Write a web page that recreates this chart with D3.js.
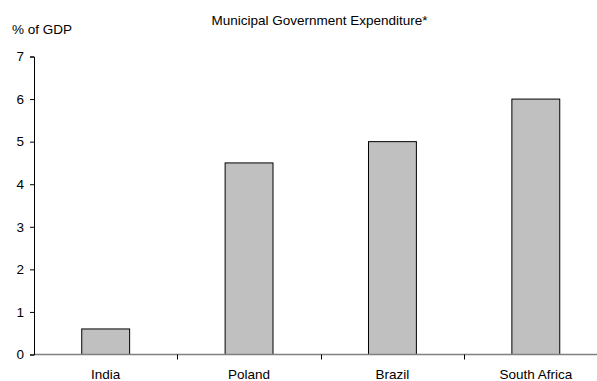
<!DOCTYPE html>
<html>
<head>
<meta charset="utf-8">
<script src="https://cdn.jsdelivr.net/npm/d3@7"></script>
<style>
  html, body { margin: 0; padding: 0; background: #fff; }
  svg { display: block; font-family: "Liberation Sans", Arial, sans-serif; }
</style>
</head>
<body>
<svg id="chart" width="597" height="381"></svg>
<script>
// Municipal expenditure as a share of GDP
const countries = ["India", "Poland", "Brazil", "South Africa"];
const expenditure = [0.6, 4.5, 5.0, 6.0];
const yTicks = [0, 1, 2, 3, 4, 5, 6, 7];

const fontSize = 13.5;
const svg = d3.select("#chart");
const plot = { left: 34, right: 607.5, top: 56.5, bottom: 354.5 };

const x = d3.scaleBand().domain(countries).range([plot.left, plot.right]).paddingInner(0).paddingOuter(0);
const y = d3.scaleLinear().domain([0, 7]).range([plot.bottom, plot.top]);
const barW = x.bandwidth() * 0.334;

// bars
svg.append("g").selectAll("rect")
  .data(countries)
  .join("rect")
  .attr("x", (d) => x(d) + (x.bandwidth() - barW) / 2)
  .attr("y", (d, i) => y(expenditure[i]))
  .attr("width", barW)
  .attr("height", (d, i) => y(0) - y(expenditure[i]))
  .attr("fill", "#c0c0c0")
  .attr("stroke", "#000")
  .attr("stroke-width", 1);

// x axis: grey baseline, ticks between categories
const xAxis = svg.append("g");
xAxis.append("line")
  .attr("x1", plot.left).attr("x2", 597)
  .attr("y1", plot.bottom).attr("y2", plot.bottom)
  .attr("stroke", "#808080").attr("stroke-width", 1.5);
xAxis.selectAll("line.tick")
  .data(countries.slice(1))
  .join("line")
  .attr("class", "tick")
  .attr("x1", (d) => Math.round(x(d)) + 0.5)
  .attr("x2", (d) => Math.round(x(d)) + 0.5)
  .attr("y1", plot.bottom).attr("y2", plot.bottom + 5)
  .attr("stroke", "#000");
xAxis.selectAll("text")
  .data(countries)
  .join("text")
  .attr("x", (d) => x(d) + x.bandwidth() / 2)
  .attr("y", 378.5)
  .attr("text-anchor", "middle")
  .attr("font-size", fontSize)
  .attr("fill", "#000")
  .text((d) => d);

// y axis
const yAxis = svg.append("g")
  .attr("transform", `translate(${plot.left},0)`)
  .call(d3.axisLeft(y).tickValues(yTicks).tickSize(4).tickPadding(6).tickFormat(d3.format("d")));
yAxis.select(".domain").attr("stroke", "#000");
yAxis.selectAll(".tick line").attr("stroke", "#000");
yAxis.selectAll(".tick text")
  .attr("font-size", fontSize)
  .attr("font-family", "Liberation Sans, Arial, sans-serif")
  .attr("fill", "#000");

// titles
svg.append("text")
  .attr("x", 319.5).attr("y", 24.5)
  .attr("text-anchor", "middle")
  .attr("font-size", fontSize)
  .text("Municipal Government Expenditure*");
svg.append("text")
  .attr("x", 12).attr("y", 34)
  .attr("font-size", fontSize)
  .text("% of GDP");
</script>
</body>
</html>
